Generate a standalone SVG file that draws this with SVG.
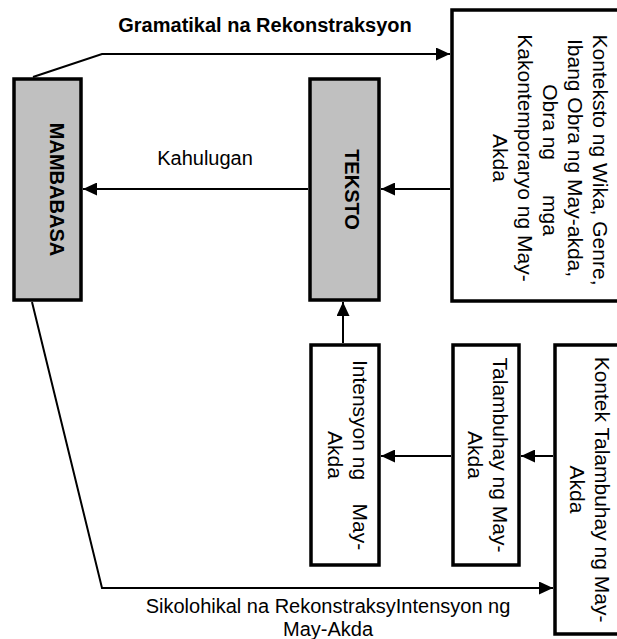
<svg xmlns="http://www.w3.org/2000/svg" width="617" height="639" viewBox="0 0 617 639">
<style>
  text { font-family: "Liberation Sans", Arial, sans-serif; font-size: 20px; fill: #000; white-space: pre; }
  .b { font-weight: bold; }
  .r { font-size: 21px; }
  .box { fill: #fff; stroke: #000; stroke-width: 3.5; }
  .gray { fill: #c0c0c0; stroke: #000; stroke-width: 3.5; }
  .conn { fill: none; stroke: #000; stroke-width: 2; }
</style>
<defs>
  <marker id="arr" markerUnits="userSpaceOnUse" markerWidth="14" markerHeight="13" refX="14" refY="6.5" orient="auto">
    <path d="M0,0 L14,6.5 L0,13 z" fill="#000"/>
  </marker>
</defs>
<rect width="617" height="639" fill="#fff"/>

<g id="connectors">
  <polyline class="conn" points="33,77 102,54 450,54" marker-end="url(#arr)"/>
  <polyline class="conn" points="32,302 102,588 553,588" marker-end="url(#arr)"/>
  <line class="conn" x1="308" y1="189" x2="83" y2="189" marker-end="url(#arr)"/>
  <line class="conn" x1="450" y1="189" x2="381" y2="189" marker-end="url(#arr)"/>
  <line class="conn" x1="343" y1="343" x2="343" y2="302" marker-end="url(#arr)"/>
  <line class="conn" x1="451" y1="456" x2="381" y2="456" marker-end="url(#arr)"/>
  <line class="conn" x1="553" y1="456" x2="521" y2="456" marker-end="url(#arr)"/>
  <text class="b" x="265" y="32" text-anchor="middle">Gramatikal na Rekonstraksyon</text>
  <text x="205" y="165" text-anchor="middle">Kahulugan</text>
  <text x="328" y="613" text-anchor="middle">Sikolohikal na RekonstraksyIntensyon ng</text>
  <text x="328" y="636" text-anchor="middle">May-Akda</text>
</g>

<g id="mambabasa">
  <rect class="gray" x="14" y="79" width="67" height="221"/>
  <text class="b" transform="translate(50,189.5) rotate(90)" text-anchor="middle">MAMBABASA</text>
</g>

<g id="teksto">
  <rect class="gray" x="310" y="79" width="69" height="221"/>
  <text class="b" transform="translate(345,189.5) rotate(90)" text-anchor="middle">TEKSTO</text>
</g>

<g id="konteksto">
  <rect class="box" x="452" y="10" width="200" height="291"/>
  <text class="r" transform="translate(593,160) rotate(90)" text-anchor="middle">Konteksto ng Wika, Genre,</text>
  <text class="r" transform="translate(568,158) rotate(90)" text-anchor="middle">Ibang Obra ng May-akda,</text>
  <text class="r" transform="translate(543,160) rotate(90)" text-anchor="middle">Obra ng      mga</text>
  <text class="r" transform="translate(518,158) rotate(90)" text-anchor="middle">Kakontemporaryo ng May-</text>
  <text class="r" transform="translate(493,158) rotate(90)" text-anchor="middle">Akda</text>
</g>

<g id="intensyon">
  <rect class="box" x="311" y="345" width="68" height="220"/>
  <text class="r" transform="translate(353,455) rotate(90)" text-anchor="middle">Intensyon ng    May-</text>
  <text class="r" transform="translate(328,455) rotate(90)" text-anchor="middle">Akda</text>
</g>

<g id="talambuhay">
  <rect class="box" x="453" y="345" width="66" height="220"/>
  <text class="r" transform="translate(493,455) rotate(90)" text-anchor="middle">Talambuhay ng May-</text>
  <text class="r" transform="translate(468,455) rotate(90)" text-anchor="middle">Akda</text>
</g>

<g id="kontek">
  <rect class="box" x="555" y="345" width="100" height="289"/>
  <text class="r" transform="translate(595,489.5) rotate(90)" text-anchor="middle">Kontek Talambuhay ng May-</text>
  <text class="r" transform="translate(570,489.5) rotate(90)" text-anchor="middle">Akda</text>
</g>
</svg>
